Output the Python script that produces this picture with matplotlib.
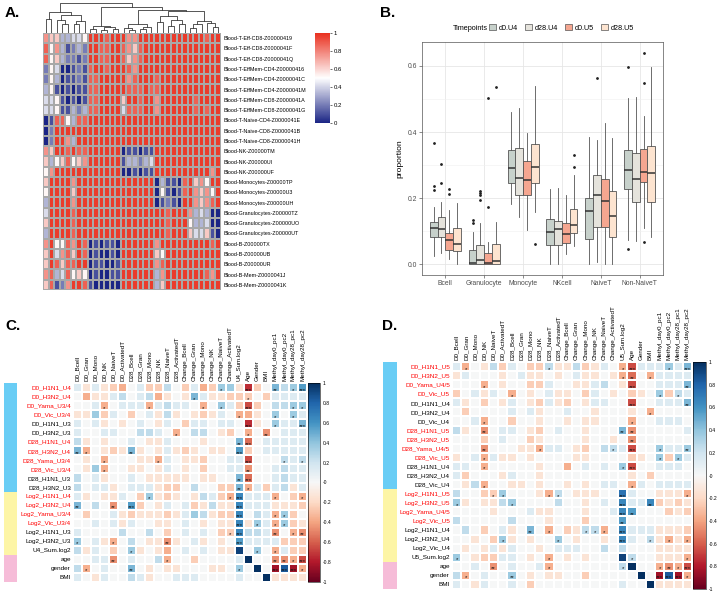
import numpy as np
import matplotlib
matplotlib.use("Agg")
import matplotlib.pyplot as plt
from matplotlib.colors import LinearSegmentedColormap, ListedColormap
from matplotlib.patches import Patch

plt.rcParams['font.family'] = ['Liberation Sans', 'DejaVu Sans']

# ---------------- panel A data ----------------
a_rows = ["Blood-T-Eff-CD8-Z00000419", "Blood-T-Eff-CD8-Z0000041F", "Blood-T-Eff-CD8-Z0000041Q",
          "Blood-T-EffMem-CD4-Z00000416", "Blood-T-EffMem-CD4-Z0000041C", "Blood-T-EffMem-CD4-Z0000041M",
          "Blood-T-EffMem-CD8-Z0000041A", "Blood-T-EffMem-CD8-Z0000041G",
          "Blood-T-Naive-CD4-Z0000041E", "Blood-T-Naive-CD8-Z0000041B", "Blood-T-Naive-CD8-Z0000041H",
          "Blood-NK-Z00000TM", "Blood-NK-Z00000UI", "Blood-NK-Z00000UF",
          "Blood-Monocytes-Z00000TP", "Blood-Monocytes-Z00000U3", "Blood-Monocytes-Z00000UH",
          "Blood-Granulocytes-Z00000TZ", "Blood-Granulocytes-Z00000UO", "Blood-Granulocytes-Z00000UT",
          "Blood-B-Z00000TX", "Blood-B-Z00000UB", "Blood-B-Z00000UR",
          "Blood-B-Mem-Z0000041J", "Blood-B-Mem-Z0000041K"]

# one digit per cell, 0 = navy ... 9 = red
a_cells = ["76633445" "999899" "977999" "999999" "999899",
           "85731232" "998899" "876899" "999999" "999999",
           "85632212" "998899" "867899" "999999" "999999",
           "25400121" "899899" "987999" "999999" "999999",
           "25301121" "889999" "978999" "899999" "999999",
           "35101011" "889999" "988898" "899999" "999999",
           "44510101" "889999" "699899" "799999" "989999",
           "44511323" "889999" "488899" "799999" "989899",
           "01885388" "999999" "999999" "999999" "999999",
           "02999999" "999999" "999999" "999999" "999999",
           "02997399" "999999" "999999" "999999" "999999",
           "76998988" "999999" "011011" "999999" "999999",
           "63568567" "999999" "133234" "999999" "999999",
           "57999999" "999999" "001011" "999999" "999979",
           "69999799" "999999" "999999" "031108" "967599",
           "59999699" "999999" "999999" "051018" "976759",
           "39999799" "999999" "999999" "012109" "976789",
           "49999899" "999999" "999999" "998999" "734300",
           "69999899" "999999" "999999" "998999" "533400",
           "39999899" "999999" "999999" "998999" "644610",
           "79558798" "010110" "999999" "799999" "999989",
           "69478698" "010010" "999999" "659999" "999999",
           "69868899" "011001" "999999" "789999" "999999",
           "78348565" "010011" "999999" "379999" "999879",
           "68127998" "100000" "999999" "369999" "999999"]
a_levels = [0.0, 0.1, 0.2, 0.33, 0.42, 0.52, 0.63, 0.76, 0.88, 0.97]

# column dendrogram: (height, left, right), leaves are column indices
col_tree = (0.97,
            (0.68, (0.45, 0, 1), (0.58, (0.42, 2, (0.3, 3, 4)), (0.4, (0.3, 5, 6), 7))),
            (0.84,
             (0.22, (0.12, 8, 9), (0.18, (0.1, 10, 11), (0.14, 12, 13))),
             (0.74,
              (0.28, (0.16, 14, (0.1, 15, 16)), (0.2, (0.12, 17, 18), 19)),
              (0.7,
               (0.55, (0.35, 20, 21), (0.42, (0.22, 22, 23), (0.3, 24, 25))),
               (0.4, (0.28, (0.15, 26, 27), 28), (0.32, 29, (0.2, 30, 31)))))))

# ---------------- panel B data ----------------
cell_types = ["Bcell", "Granulocyte", "Monocyte", "NKcell", "NaiveT", "Non-NaiveT"]
timepoints = ["d0.U4", "d28.U4", "d0.U5", "d28.U5"]
tp_colors = ["#c7d1cb", "#e5e3dc", "#f5a690", "#fde4d0"]

b_med = {"d0.U4": [0.109, 0.003, 0.290, 0.097, 0.161, 0.285],
         "d28.U4": [0.106, 0.013, 0.262, 0.106, 0.209, 0.258],
         "d0.U5": [0.075, 0.005, 0.254, 0.091, 0.191, 0.278],
         "d28.U5": [0.063, 0.011, 0.295, 0.119, 0.147, 0.275]}
b_q1 = {"d0.U4": [0.082, 0.0, 0.245, 0.060, 0.076, 0.227],
        "d28.U4": [0.082, 0.0, 0.209, 0.060, 0.112, 0.189],
        "d0.U5": [0.043, 0.0, 0.209, 0.066, 0.112, 0.250],
        "d28.U5": [0.041, 0.0, 0.245, 0.094, 0.084, 0.189]}
b_q3 = {"d0.U4": [0.129, 0.045, 0.345, 0.136, 0.202, 0.345],
        "d28.U4": [0.142, 0.058, 0.352, 0.131, 0.270, 0.337],
        "d0.U5": [0.096, 0.035, 0.311, 0.126, 0.259, 0.350],
        "d28.U5": [0.109, 0.063, 0.363, 0.166, 0.222, 0.357]}
b_lo = {"d0.U4": [0.025, 0.0, 0.184, 0.0, 0.0, 0.073],
        "d28.U4": [0.033, 0.0, 0.144, 0.0, 0.008, 0.071],
        "d0.U5": [0.015, 0.0, 0.104, 0.031, 0.0, 0.109],
        "d28.U5": [0.0, 0.0, 0.159, 0.055, 0.0, 0.084]}
b_hi = {"d0.U4": [0.174, 0.099, 0.461, 0.227, 0.386, 0.504],
        "d28.U4": [0.190, 0.126, 0.473, 0.230, 0.376, 0.506],
        "d0.U5": [0.164, 0.068, 0.396, 0.210, 0.426, 0.448],
        "d28.U5": [0.186, 0.129, 0.540, 0.270, 0.381, 0.597]}
b_out = {"d0.U4": [[0.367, 0.237, 0.224], [0.134, 0.126], [], [], [], [0.597, 0.047]],
         "d28.U4": [[0.302, 0.247], [0.222, 0.217, 0.211, 0.194], [], [], [0.564], []],
         "d0.U5": [[0.227, 0.214], [0.503, 0.172], [], [], [], [0.639, 0.549, 0.068]],
         "d28.U5": [[], [0.537], [0.063], [0.33, 0.295], [], []]}

# ---------------- panels C / D data ----------------
# cell code: 0..9 / a..i -> positive / negative strength, X -> 1 ; stars: . none, 1 *, 2 **, 3 ***
c_cols = ["D0_Bcell", "D0_Gran", "D0_Mono", "D0_NK", "D0_NaiveT", "D0_ActivatedT",
          "D28_Bcell", "D28_Gran", "D28_Mono", "D28_NK", "D28_NaiveT", "D28_ActivatedT",
          "Change_Bcell", "Change_Gran", "Change_Mono", "Change_NK", "Change_NaiveT", "Change_ActivatedT",
          "U4_Sum.log2", "Age", "Gender", "BMI",
          "Methyl_day0_pc1", "Methyl_day0_pc2", "Methyl_day28_pc1", "Methyl_day28_pc2"]
c_rows = ["D0_H1N1_U4", "D0_H3N2_U4", "D0_Yama_U3/4", "D0_Vic_U3/4", "D0_H1N1_U3", "D0_H3N2_U3",
          "D28_H1N1_U4", "D28_H3N2_U4", "D28_Yama_U3/4", "D28_Vic_U3/4", "D28_H1N1_U3", "D28_H3N2_U3",
          "Log2_H1N1_U4", "Log2_H3N2_U4", "Log2_Yama_U3/4", "Log2_Vic_U3/4", "Log2_H1N1_U3", "Log2_H3N2_U3",
          "U4_Sum.log2", "age", "gender", "BMI"]
c_red = [0, 1, 2, 3, 6, 7, 8, 9, 12, 13, 14, 15]
c_groups = [0] * 12 + [1] * 7 + [2] * 3
c_cells = ["1a1abc01bb20b1cb33agb04235", "0caa12012ca0a41aabbb0b1111", "001c0111c12110c031bfb02233",
           "aa3b10b01a2a0aba10cca03031", "101a0a010a10b110110ga03114", "10011002210c0220ab0c0d0111",
           "2a0a0010aa1000a0004e011111", "4c0aba4a0a1aba0aa05b011111", "0a0c000aac10aab0011f000212",
           "0a3c00aa0a10a0b0011d001211", "201a0010aaaaa0aa004e001211", "2011a0111abb0200bb4c1b12a1",
           "1a0aa10b3aba0a21bc6111c0bc", "4020d05b0a101ba2aa6111aaab", "0b001abaaaba132abb6021c3b0",
           "00101a100aa010a0aa6a31c3ba", "1000020020b01010bb6221d0cd", "301ac020aada01a0a051111bbb",
           "2a10b03a0ac01010aa9030c1bb", "0011d01002c00b00001X00ddcf", "2c010040a0aa000aa030X0h8hc",
           "10a10021a001110000100Xaaaa"]
c_stars = ["................1..3..2.13", ".............1.....1......", "...1....1.....1.1..3....11",
           "..................1...1.1.", "...................3..1..3", "...........1.......1.2....",
           "..................23......", "21....2...........3.......", "...1.....1.........3...1.1",
           "...1...............2......", "..................23......", "..................21......",
           "........1........13...1..1", "2...2.3...........3.......", "..................3...11..",
           "..................3.1.11..", ".................13...2.12", "1...1.....2.......3.......",
           "......1.............1.1...", "....2.....1...........2213", ".1....2...........1...3331",
           ".........................."]

d_cols = c_cols[:18] + ["U5_Sum.log2"] + c_cols[19:]
d_rows = ["D0_H1N1_U5", "D0_H3N2_U5", "D0_Yama_U4/5", "D0_Vic_U5", "D0_H1N1_U4", "D0_H3N2_U4", "D0_Vic_U4",
          "D28_H1N1_U5", "D28_H3N2_U5", "D28_Yama_U4/5", "D28_Vic_U5", "D28_H1N1_U4", "D28_H3N2_U4", "D28_Vic_U4",
          "Log2_H1N1_U5", "Log2_H3N2_U5", "Log2_Yama_U4/5", "Log2_Vic_U5", "Log2_H1N1_U4", "Log2_H3N2_U4",
          "Log2_Vic_U4", "U5_Sum.log2", "age", "gender", "BMI"]
d_red = [0, 1, 2, 3, 7, 8, 9, 10, 14, 15, 16, 17]
d_groups = [0] * 14 + [1] * 8 + [2] * 3
d_cells = ["1c0a2b10bb2aa2ba10cf111314", "a1000a01aa0a01aa0ace0c1111", "000c0a00bb100aa120af001114",
           "b01a10c0a01aa0b10a0ba03b21", "1a0b0a10ab1ab0a1100f001114", "0b0000101a00100a000a0c0000",
           "001c00b00a00a0aa000c001110", "2a0d0110ab0100a0004d000001", "000b0100ba0000a00a0d000000",
           "000d000aac110ab0221f003113", "a01c1aa0a0000aa0000ba03b31", "110c00000a00c010103f001110",
           "1b000a100a000000000a0b0000", "0a2c00aa0a00a0a0110c101111", "200bb3000ac20aaa007100aaac",
           "3a0aa230000200a0106116baba", "0000a0001aa000a00165000bab", "2000002000a000b00050000000",
           "020b01a040c0ba22c06111aaab", "00a0b3a0a0030a00a06102acac", "0a0a1a100a011100202000aaaa",
           "30abb110a0c0a0a0009200aaac", "0010d01001c00000002X00cdcf", "2c010030a0aa00b00000X0h8hc",
           "10a10010b000000000100Xaaaa"]
d_stars = [".1........1.......13...1.3", "..................12.1....", "...1...............3.....2",
           "......1...............1.1.", "...................3.....2", ".....................1....",
           "...1...............1......", "...2..............22......", "...................2......",
           "...2.....1.......1.3..1..2", "...1..................1.1.", "...1..............13......",
           "..........................", "...1...............1......", "....11....11......3......1",
           "1.....1...........3..2....", "..................32......", "..................2.......",
           "........2.1...111.3.......", ".....1.....1......3..1.1.1", "..........................",
           "1.........1........1.....1", "....2.....1.......1...1213", ".1....2...............3331",
           ".........................."]

side_colors = ["#69cdf5", "#fdf5a6", "#f6bcd8"]

corr_levels = [0.0, 0.14, 0.25, 0.36, 0.46, 0.56, 0.65, 0.74, 0.84, 0.93]
CORR = {'X': 1.0}
for k, ch in enumerate('0123456789'):
    CORR[ch] = corr_levels[k]
for k, ch in enumerate('abcdefghi'):
    CORR[ch] = -corr_levels[k + 1]
STARS = {'.': '', '1': '*', '2': '**', '3': '***'}


def box(x0, y0, x1, y1):
    # pixel box -> figure fraction
    return [x0 / 720, 1 - y1 / 593, (x1 - x0) / 720, (y1 - y0) / 593]


fig = plt.figure(figsize=(7.2, 5.93), dpi=100)

# ================= A =================
fig.text(5 / 720, 1 - 13 / 593, "A.", fontsize=11, fontweight='bold', va='center')
heat_cmap = LinearSegmentedColormap.from_list("nwr", ["#1b2585", "#ffffff", "#e9301f"])
mat_a = np.array([[a_levels[int(ch)] for ch in r] for r in a_cells])
axA = fig.add_axes(box(43, 33, 221, 290))
mesh_a = axA.pcolormesh(mat_a, cmap=heat_cmap, vmin=0, vmax=1, edgecolors='#a8a8a8', linewidth=0.3)
axA.set_xlim(0, mat_a.shape[1])
axA.set_ylim(mat_a.shape[0], 0)
axA.yaxis.tick_right()
axA.set_yticks(np.arange(len(a_rows)) + 0.5)
axA.set_yticklabels(a_rows, fontsize=3.9)
axA.tick_params(axis='y', length=0, pad=2)
axA.set_xticks([])
for s in axA.spines.values():
    s.set_visible(False)

axDen = fig.add_axes(box(43, 2, 221, 33))


def draw_tree(ax, node):
    if isinstance(node, int):
        return node + 0.5, 0.0
    h, left, right = node
    xl, hl = draw_tree(ax, left)
    xr, hr = draw_tree(ax, right)
    ax.plot([xl, xl, xr, xr], [hl, h, h, hr], color='#3a3a3a', lw=0.6)
    return (xl + xr) / 2, h


draw_tree(axDen, col_tree)
axDen.set_xlim(0, mat_a.shape[1])
axDen.set_ylim(0, 1.0)
axDen.axis('off')

caxA = fig.add_axes(box(315, 33, 330, 123))
cbA = fig.colorbar(mesh_a, cax=caxA, ticks=[0, 0.2, 0.4, 0.6, 0.8, 1])
cbA.ax.set_yticklabels(["0", "0.2", "0.4", "0.6", "0.8", "1"])
cbA.ax.tick_params(labelsize=4.3, length=1.5, width=0.4, pad=1)
cbA.outline.set_visible(False)

# ================= B =================
fig.text(380 / 720, 1 - 13 / 593, "B.", fontsize=11, fontweight='bold', va='center')
axB = fig.add_axes(box(422, 42, 663, 275))
axB.set_axisbelow(True)
width = 0.2
for j, tp in enumerate(timepoints):
    stats = []
    for i in range(len(cell_types)):
        stats.append(dict(med=b_med[tp][i], q1=b_q1[tp][i], q3=b_q3[tp][i],
                          whislo=b_lo[tp][i], whishi=b_hi[tp][i], fliers=b_out[tp][i]))
    pos = np.arange(len(cell_types)) + (j - 1.5) * width
    axB.bxp(stats, positions=pos, widths=width, patch_artist=True, showcaps=False,
            boxprops=dict(facecolor=tp_colors[j], edgecolor='#555555', linewidth=0.6),
            medianprops=dict(color='#333333', linewidth=1.1),
            whiskerprops=dict(color='#555555', linewidth=0.6),
            flierprops=dict(marker='o', markersize=1.0, markerfacecolor='#222222',
                            markeredgecolor='#222222', linestyle='none'))
axB.set_xlim(-0.6, 5.6)
axB.set_ylim(-0.032, 0.672)
axB.set_xticks(np.arange(len(cell_types)))
axB.set_xticklabels(cell_types)
axB.set_yticks([0.0, 0.2, 0.4, 0.6])
axB.set_yticklabels(["0.0", "0.2", "0.4", "0.6"])
axB.set_yticks([0.1, 0.3, 0.5], minor=True)
axB.grid(which='major', color='#e6e6e6', linewidth=0.6)
axB.grid(which='minor', axis='y', color='#f0f0f0', linewidth=0.4)
axB.tick_params(which='major', labelsize=4.9, labelcolor='#4d4d4d', color='#333333',
                length=2, width=0.4, pad=1.5)
axB.tick_params(which='minor', length=0)
axB.set_ylabel("proportion", fontsize=6.1, labelpad=3)
for s in axB.spines.values():
    s.set_color('#555555')
    s.set_linewidth(0.5)
fig.text(488 / 720, 1 - 28 / 593, "Timepoints", fontsize=5.2, ha='right', va='center')
handles = [Patch(facecolor=c, edgecolor='#555555', linewidth=0.5) for c in tp_colors]
fig.legend(handles, timepoints, loc='center left', bbox_to_anchor=(489 / 720, 1 - 28 / 593),
           ncol=4, frameon=False, fontsize=5.2, handlelength=1.0, handleheight=0.9,
           handletextpad=0.4, columnspacing=0.9, borderaxespad=0, borderpad=0)

# ================= C / D =================
corr_cmap = plt.get_cmap('RdBu')


def corr_panel(hbox, cbox, sbox, rows, cols, cells, stars, red_rows, groups, label, label_xy):
    fig.text(label_xy[0] / 720, 1 - label_xy[1] / 593, label, fontsize=11,
             fontweight='bold', va='center')
    mat = np.array([[CORR[ch] for ch in r] for r in cells])
    ax = fig.add_axes(box(*hbox))
    mesh = ax.pcolormesh(mat, cmap=corr_cmap, vmin=-1, vmax=1, edgecolors='white', linewidth=0.15)
    ax.set_xlim(0, len(cols))
    ax.set_ylim(len(rows), 0)
    for i, r in enumerate(stars):
        for j, ch in enumerate(r):
            if STARS[ch]:
                ax.text(j + 0.5, i + 0.78, STARS[ch], ha='center', va='center',
                        fontsize=4.3, color='#111111')
    ax.xaxis.tick_top()
    ax.set_xticks(np.arange(len(cols)) + 0.5)
    ax.set_xticklabels(cols, rotation=90, fontsize=4.5)
    ax.set_yticks(np.arange(len(rows)) + 0.5)
    ax.set_yticklabels(rows, fontsize=4.6)
    ax.tick_params(length=0, pad=1.5)
    for i, t in enumerate(ax.get_yticklabels()):
        t.set_color('#ff0000' if i in red_rows else 'black')
    for s in ax.spines.values():
        s.set_visible(False)

    axs = fig.add_axes(box(*sbox))
    axs.pcolormesh(np.array(groups)[:, None], cmap=ListedColormap(side_colors), vmin=-0.5, vmax=2.5)
    axs.set_ylim(len(groups), 0)
    axs.axis('off')

    cax = fig.add_axes(box(*cbox))
    ticks = np.round(np.arange(-1, 1.01, 0.2), 1)
    cb = fig.colorbar(mesh, cax=cax, ticks=ticks)
    cb.ax.set_yticklabels(["%g" % t for t in ticks])
    cb.ax.tick_params(labelsize=3.6, length=0, pad=2)
    cb.outline.set_linewidth(0.4)


corr_panel((73, 383, 307, 582), (308, 383, 320, 582), (4, 383, 17, 582),
           c_rows, c_cols, c_cells, c_stars, c_red, c_groups, "C.", (5, 326))
corr_panel((452, 362, 692, 589), (693, 362, 706, 589), (383, 362, 397, 589),
           d_rows, d_cols, d_cells, d_stars, d_red, d_groups, "D.", (382, 326))

fig.savefig("out.png", dpi=100)
